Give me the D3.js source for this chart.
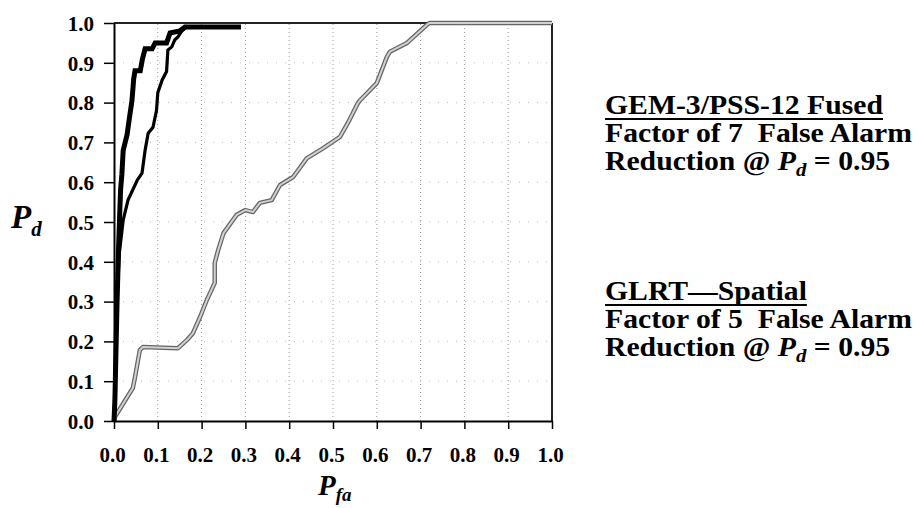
<!DOCTYPE html>
<html><head><meta charset="utf-8">
<script src="https://cdn.jsdelivr.net/npm/d3@7"></script>
<style>
html,body{margin:0;padding:0;background:#fff;}
text{font-family:"Liberation Serif","Times New Roman",serif;font-weight:bold;fill:#000;}
</style></head>
<body>
<svg id="chart" width="920" height="508"></svg>
<script>
// ---- data ----
const xTicks = [0,0.1,0.2,0.3,0.4,0.5,0.6,0.7,0.8,0.9,1.0];
const yTicks = [0,0.1,0.2,0.3,0.4,0.5,0.6,0.7,0.8,0.9,1.0];
// GEM-3/PSS-12 fused (thick black)
const fusedPfa = [0,0.002,0.004,0.007,0.010,0.013,0.015,0.018,0.021,0.030,0.035,0.041,0.045,0.048,0.060,0.065,0.071,0.087,0.094,0.120,0.128,0.150,0.162,0.290];
const fusedPd  = [0,0.05,0.15,0.30,0.42,0.52,0.58,0.62,0.68,0.72,0.76,0.805,0.86,0.88,0.88,0.91,0.935,0.935,0.95,0.95,0.975,0.98,0.99,0.99];
// GLRT spatial (medium black)
const glrtPfa = [0,0.003,0.007,0.012,0.021,0.032,0.053,0.064,0.071,0.078,0.089,0.097,0.100,0.110,0.120,0.123,0.132,0.139,0.146,0.155,0.165];
const glrtPd  = [0,0.135,0.30,0.42,0.505,0.555,0.605,0.623,0.68,0.723,0.738,0.78,0.825,0.857,0.878,0.932,0.94,0.958,0.965,0.98,0.99];
// baseline (gray)
const basePfa = [0,0.002,0.043,0.048,0.059,0.066,0.146,0.167,0.180,0.196,0.212,0.230,0.230,0.238,0.250,0.280,0.300,0.317,0.333,0.360,0.379,0.409,0.440,0.477,0.516,0.534,0.557,0.562,0.600,0.623,0.630,0.669,0.714,0.720,1.0];
const basePd  = [0,0.01,0.083,0.11,0.178,0.186,0.183,0.204,0.22,0.26,0.304,0.347,0.397,0.43,0.472,0.518,0.53,0.525,0.548,0.555,0.593,0.613,0.66,0.685,0.714,0.749,0.799,0.806,0.849,0.915,0.928,0.95,0.995,1.0,1.0];

// ---- layout ----
const svg = d3.select("#chart");
const L = 114, T = 23, W = 438, H = 398;
const x = d3.scaleLinear().domain([0,1]).range([L, L+W]);
const y = d3.scaleLinear().domain([0,1]).range([T+H, T]);

// grid
const g = svg.append("g");
g.selectAll("line.vg").data(xTicks.slice(1,-1)).join("line")
  .attr("x1", d=>x(d)).attr("x2", d=>x(d)).attr("y1", y(0)).attr("y2", y(1))
  .attr("stroke","#999").attr("stroke-width",1).attr("stroke-dasharray","1,3");
g.selectAll("line.hg").data(yTicks.slice(1,-1)).join("line")
  .attr("y1", d=>y(d)).attr("y2", d=>y(d)).attr("x1", x(0)).attr("x2", x(1))
  .attr("stroke","#bbb").attr("stroke-width",1).attr("stroke-dasharray","1,8");

// frame (top/right)
svg.append("line").attr("x1",x(0)).attr("x2",x(1)).attr("y1",y(1)).attr("y2",y(1)).attr("stroke","#222").attr("stroke-width",2);
svg.append("line").attr("x1",x(1)).attr("x2",x(1)).attr("y1",y(0)).attr("y2",y(1)).attr("stroke","#222").attr("stroke-width",2);

// curves
const line = d3.line().x(d=>x(d[0])).y(d=>y(d[1])).curve(d3.curveLinear);
const base = d3.zip(basePfa, basePd);
svg.append("path").attr("d", line(base)).attr("fill","none").attr("stroke","#666").attr("stroke-width",4.5).attr("stroke-linejoin","round");
svg.append("path").attr("d", line(base)).attr("fill","none").attr("stroke","#d0d0d0").attr("stroke-width",2).attr("stroke-linejoin","round");
svg.append("path").attr("d", line(d3.zip(glrtPfa, glrtPd))).attr("fill","none").attr("stroke","#000").attr("stroke-width",3.2).attr("stroke-linejoin","miter");
svg.append("path").attr("d", line(d3.zip(fusedPfa, fusedPd))).attr("fill","none").attr("stroke","#000").attr("stroke-width",5).attr("stroke-linejoin","miter");

// axes
const ax = svg.append("g").attr("transform",`translate(0,${y(0)})`)
  .call(d3.axisBottom(x).tickValues(xTicks).tickSize(8).tickSizeOuter(0).tickFormat(d3.format(".1f")));
const ay = svg.append("g").attr("transform",`translate(${x(0)},0)`)
  .call(d3.axisLeft(y).tickValues(yTicks).tickSize(10).tickSizeOuter(0).tickFormat(d3.format(".1f")));
[ax, ay].forEach(a=>{
  a.select(".domain").attr("stroke","#000").attr("stroke-width",2);
  a.selectAll(".tick line").attr("stroke","#000").attr("stroke-width",1.5);
  a.selectAll("text").attr("font-family",'"Liberation Serif",serif').attr("font-weight","bold").attr("font-size",21).attr("fill","#000");
});
ax.selectAll("text").attr("y",null).attr("dy",null).attr("transform","translate(-2,41)");
ay.selectAll("text").attr("x",-20).attr("dy","0.35em");

// axis titles
const xt = svg.append("text").attr("x", x(0.5)-15).attr("y", 495).attr("font-size",29).attr("font-style","italic");
xt.append("tspan").text("P");
xt.append("tspan").attr("dy",6).attr("font-size",19).text("fa");
const yt = svg.append("text").attr("x", 11).attr("y", 228).attr("font-size",33).attr("font-style","italic");
yt.append("tspan").text("P");
yt.append("tspan").attr("dy",8).attr("font-size",21).text("d");

// legend texts
function block(x0, y0, title, factor){
  const gb = svg.append("g").attr("transform",`translate(${x0},0) scale(1.1,1)`);
  const t = gb.append("text").attr("x",0).attr("y",y0).attr("font-size",27).text(title);
  const w = t.node().getComputedTextLength();
  gb.append("line").attr("x1",0).attr("x2",w).attr("y1",y0+5).attr("y2",y0+5).attr("stroke","#000").attr("stroke-width",2);
  gb.append("text").attr("x",0).attr("y",y0+28).attr("font-size",27).text(factor);
  const r = gb.append("text").attr("x",0).attr("y",y0+56).attr("font-size",27);
  r.append("tspan").text("Reduction @ ");
  r.append("tspan").attr("font-style","italic").text("P");
  r.append("tspan").attr("font-style","italic").attr("font-size",19).attr("dy",6).text("d");
  r.append("tspan").attr("dy",-6).text(" = 0.95");
}
block(605, 114, "GEM-3/PSS-12 Fused", "Factor of 7\u00a0\u00a0False Alarm");
block(605, 300, "GLRT\u2014Spatial", "Factor of 5\u00a0\u00a0False Alarm");
</script>
</body></html>
